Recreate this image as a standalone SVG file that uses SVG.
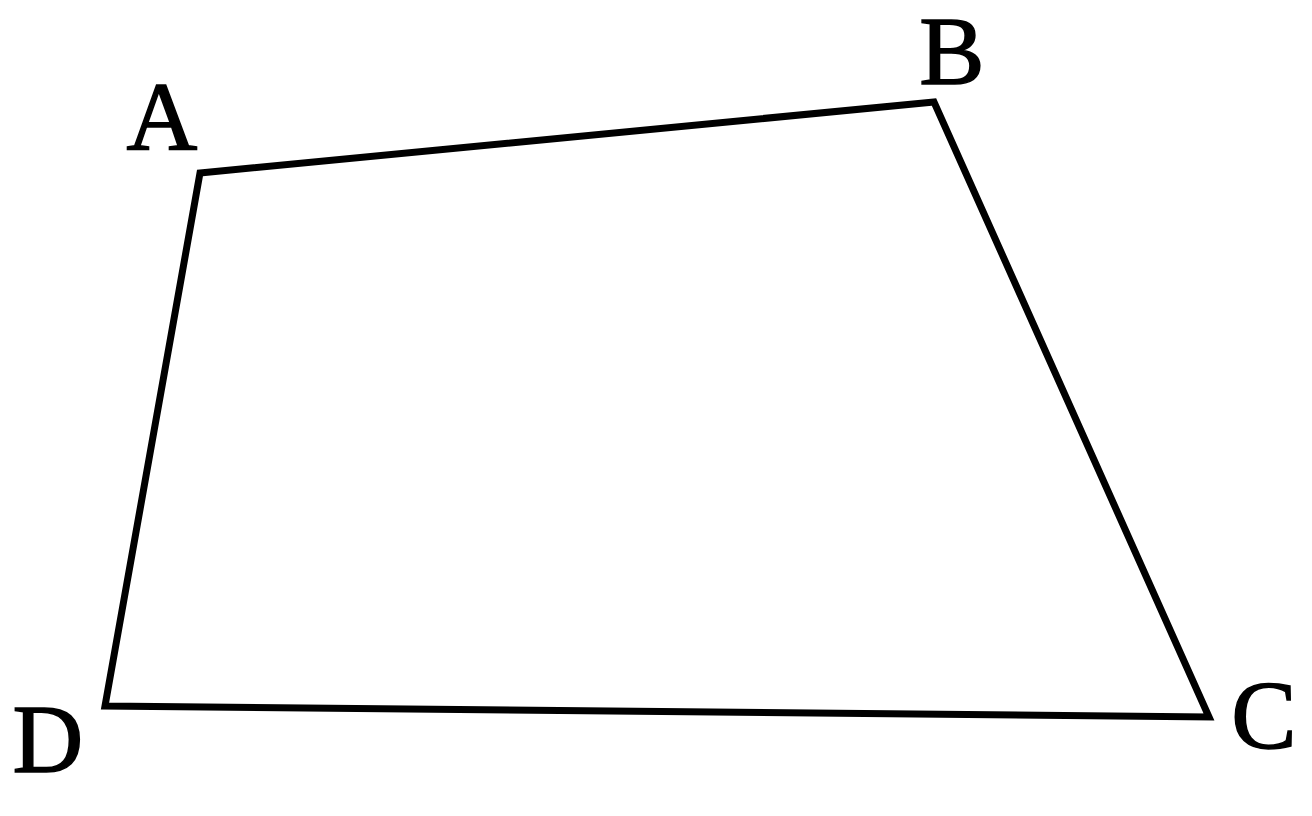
<svg xmlns="http://www.w3.org/2000/svg" width="1312" height="816" viewBox="0 0 1312 816">
<style>
.lbl{font-family:"Liberation Serif","Times New Roman",serif;font-size:98px;fill:#000;stroke:#000;stroke-width:1.5;text-anchor:middle}
.edge{fill:none;stroke:#000;stroke-width:7;stroke-linejoin:miter}
</style>
<rect width="1312" height="816" fill="#fff"/>
<g id="connectors">
<polygon class="edge" points="200,173 934,102 1209,717 105,706"/>
</g>
<g id="A"><text class="lbl" x="162" y="149">A</text></g>
<g id="B"><text class="lbl" x="952" y="84">B</text></g>
<g id="C"><text class="lbl" x="1264" y="748">C</text></g>
<g id="D"><text class="lbl" x="48" y="772">D</text></g>
</svg>
